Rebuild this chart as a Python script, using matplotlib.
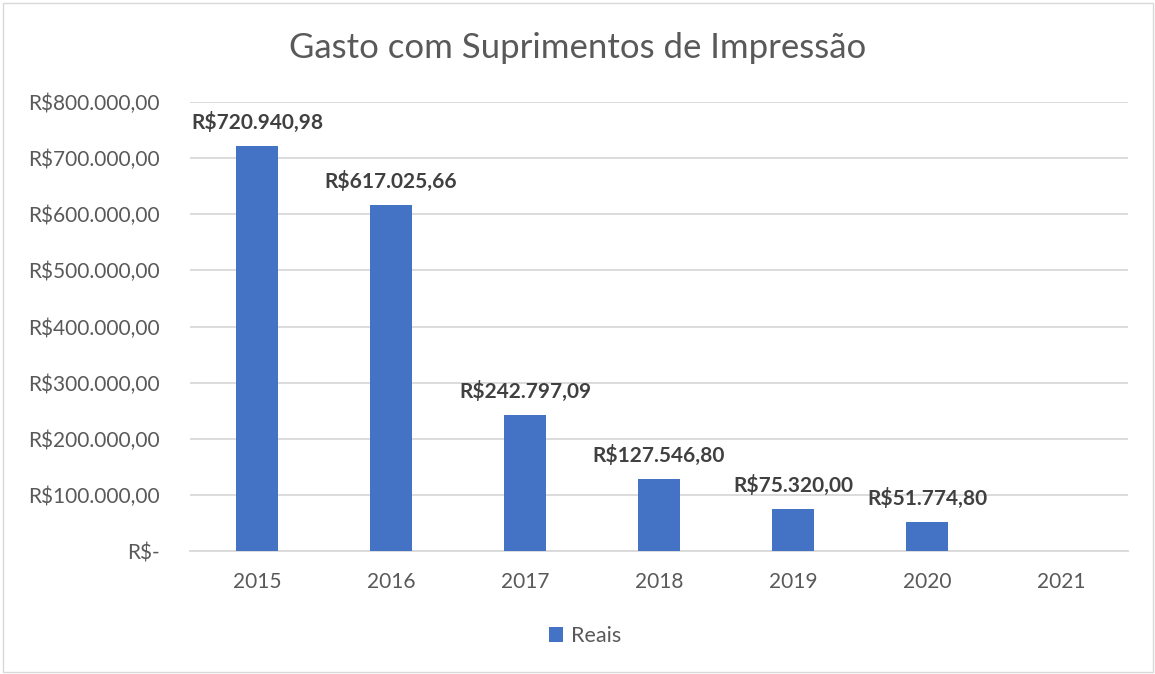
import matplotlib
matplotlib.use("Agg")
import matplotlib.pyplot as plt
from matplotlib.patches import Rectangle
import numpy as np

categories = ["2015", "2016", "2017", "2018", "2019", "2020", "2021"]
values = [720940.98, 617025.66, 242797.09, 127546.80, 75320.00, 51774.80, np.nan]
value_labels = ["R$720.940,98", "R$617.025,66", "R$242.797,09", "R$127.546,80",
                "R$75.320,00", "R$51.774,80", ""]
y_ticks = [0, 100000, 200000, 300000, 400000, 500000, 600000, 700000, 800000]
y_tick_labels = ["R$-", "R$100.000,00", "R$200.000,00", "R$300.000,00", "R$400.000,00",
                 "R$500.000,00", "R$600.000,00", "R$700.000,00", "R$800.000,00"]
title = "Gasto com Suprimentos de Impressão"
series_name = "Reais"

plt.rcParams['font.family'] = ['Lato', 'DejaVu Sans']

W, H = 1155, 674
fig = plt.figure(figsize=(W / 100, H / 100), dpi=100)
ax = fig.add_axes([190 / W, 1 - 551 / H, 938 / W, 449 / H])

x = np.arange(len(categories))
bars = ax.bar(x, values, width=0.313, color="#4472C4", label=series_name, zorder=3)

for xi, v, lab in zip(x, values, value_labels):
    if lab and not np.isnan(v):
        ax.annotate(lab, (xi, v), xytext=(0, 13), textcoords="offset pixels",
                    ha="center", va="bottom", fontsize=15, fontweight="bold",
                    color="#404040")

ax.set_xlim(-0.5, len(categories) - 0.5)
ax.set_ylim(0, 800000)
ax.set_yticks(y_ticks)
ax.set_yticklabels(y_tick_labels)
ax.set_xticks(x)
ax.set_xticklabels(categories)
ax.tick_params(axis="both", length=0, labelsize=15, labelcolor="#595959")
ax.tick_params(axis="y", pad=22)
ax.tick_params(axis="x", pad=15)
ax.grid(axis="y", color="#D9D9D9", linewidth=1.3, zorder=0)
for s in ["top", "right", "left"]:
    ax.spines[s].set_visible(False)
ax.spines["bottom"].set_color("#D9D9D9")
ax.spines["bottom"].set_linewidth(1.3)

fig.text(578 / W, 1 - 48 / H, title, ha="center", va="center", fontsize=25,
         color="#595959")

leg = fig.legend(handles=[bars], labels=[series_name], loc="center",
                 bbox_to_anchor=(585 / W, 1 - 636 / H), frameon=False,
                 fontsize=15.5, handlelength=0.65, handleheight=0.65,
                 handletextpad=0.4)
for t in leg.get_texts():
    t.set_color("#595959")

fig.patches.append(Rectangle((3 / W, 2 / H), 1150 / W, 669 / H, transform=fig.transFigure,
                             fill=False, edgecolor="#D9D9D9", linewidth=1))

fig.savefig("out.png", dpi=100, facecolor="white")
